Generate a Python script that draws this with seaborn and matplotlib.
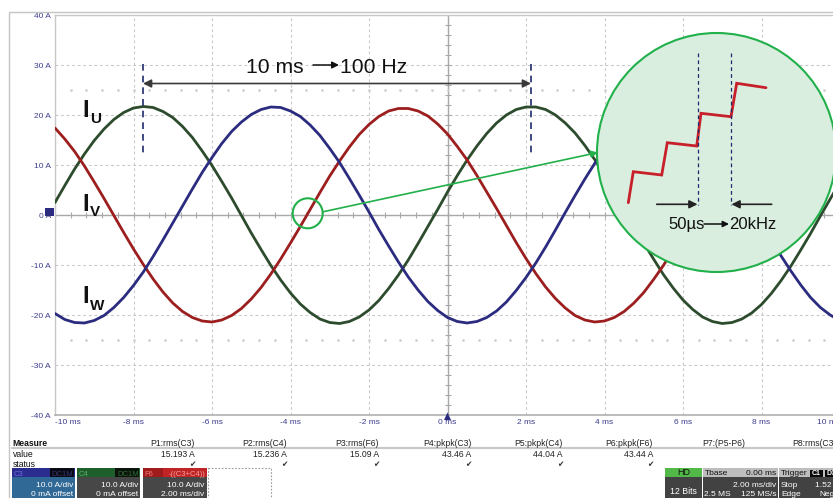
import numpy as np
import pandas as pd
import matplotlib
matplotlib.use("Agg")
import matplotlib.pyplot as plt
import seaborn as sns
from matplotlib.patches import Circle, Rectangle, Polygon

time_ms = [-10.0, -9.75, -9.5, -9.25, -9.0, -8.75, -8.5, -8.25, -8.0, -7.75,
           -7.5, -7.25, -7.0, -6.75, -6.5, -6.25, -6.0, -5.75, -5.5, -5.25,
           -5.0, -4.75, -4.5, -4.25, -4.0, -3.75, -3.5, -3.25, -3.0, -2.75,
           -2.5, -2.25, -2.0, -1.75, -1.5, -1.25, -1.0, -0.75, -0.5, -0.25,
           0.0, 0.25, 0.5, 0.75, 1.0, 1.25, 1.5, 1.75, 2.0, 2.25,
           2.5, 2.75, 3.0, 3.25, 3.5, 3.75, 4.0, 4.25, 4.5, 4.75,
           5.0, 5.25, 5.5, 5.75, 6.0, 6.25, 6.5, 6.75, 7.0, 7.25,
           7.5, 7.75, 8.0, 8.25, 8.5, 8.75, 9.0, 9.25, 9.5, 9.75, 10.0]
i_u = [2.5, 5.9, 9.2, 12.2, 14.9, 17.2, 19.1, 20.5, 21.4, 21.7,
       21.5, 20.7, 19.5, 17.7, 15.5, 12.8, 9.9, 6.7, 3.4, -0.1,
       -3.6, -6.9, -10.1, -13.0, -15.6, -17.8, -19.5, -20.8, -21.5, -21.7,
       -21.3, -20.4, -19.0, -17.1, -14.7, -12.0, -9.0, -5.7, -2.3, 1.1,
       4.6, 7.9, 11.0, 13.8, 16.3, 18.4, 20.0, 21.1, 21.6, 21.6,
       21.1, 20.0, 18.4, 16.4, 13.9, 11.1, 8.0, 4.7, 1.3, -2.2,
       -5.6, -8.8, -11.9, -14.6, -17.0, -18.9, -20.4, -21.3, -21.7, -21.5,
       -20.8, -19.6, -17.9, -15.7, -13.1, -10.2, -7.0, -3.7, -0.2, 3.2, 6.6]
i_v = [17.4, 15.2, 12.7, 9.8, 6.6, 3.3, -0.1, -3.5, -6.8, -9.9,
       -12.8, -15.4, -17.6, -19.3, -20.5, -21.2, -21.4, -21.0, -20.1, -18.7,
       -16.8, -14.5, -11.8, -8.8, -5.6, -2.3, 1.1, 4.5, 7.8, 10.8,
       13.6, 16.1, 18.1, 19.7, 20.8, 21.3, 21.3, 20.8, 19.8, 18.2,
       16.2, 13.7, 11.0, 7.9, 4.6, 1.3, -2.1, -5.5, -8.7, -11.7,
       -14.4, -16.7, -18.6, -20.1, -21.0, -21.4, -21.2, -20.5, -19.3, -17.6,
       -15.5, -12.9, -10.1, -6.9, -3.6, -0.2, 3.2, 6.5, 9.6, 12.6,
       15.1, 17.4, 19.1, 20.4, 21.2, 21.4, 21.1, 20.2, 18.9, 17.0, 14.8]
i_w = [-19.7, -20.9, -21.5, -21.6, -21.1, -20.1, -18.5, -16.5, -14.1, -11.4,
       -8.3, -5.0, -1.6, 1.8, 5.2, 8.5, 11.5, 14.3, 16.7, 18.6,
       20.1, 21.1, 21.6, 21.5, 20.8, 19.7, 18.0, 15.9, 13.3, 10.5,
       7.3, 4.0, 0.6, -2.9, -6.2, -9.4, -12.4, -15.0, -17.3, -19.1,
       -20.5, -21.3, -21.6, -21.3, -20.5, -19.2, -17.4, -15.1, -12.5, -9.6,
       -6.4, -3.0, 0.5, 3.9, 7.2, 10.3, 13.2, 15.8, 17.9, 19.6,
       20.8, 21.5, 21.6, 21.2, 20.2, 18.7, 16.8, 14.4, 11.6, 8.6,
       5.4, 2.0, -1.5, -4.9, -8.2, -11.2, -14.0, -16.5, -18.5, -20.0, -21.1]

x_ticks = [-10, -8, -6, -4, -2, 0, 2, 4, 6, 8, 10]
x_tick_labels = ["-10 ms", "-8 ms", "-6 ms", "-4 ms", "-2 ms", "0 ms",
                 "2 ms", "4 ms", "6 ms", "8 ms", "10 ms"]
y_ticks = [-40, -30, -20, -10, 0, 10, 20, 30, 40]
y_tick_labels = ["-40 A", "-30 A", "-20 A", "-10 A", "0 A", "10 A", "20 A", "30 A", "40 A"]

measure_headers = ["P1:rms(C3)", "P2:rms(C4)", "P3:rms(F6)", "P4:pkpk(C3)",
                   "P5:pkpk(C4)", "P6:pkpk(F6)", "P7:(P5-P6)", "P8:rms(C3)"]
measure_values = ["15.193 A", "15.236 A", "15.09 A", "43.46 A", "44.04 A", "43.44 A", "", ""]
measure_ok = [True, True, True, True, True, True, False, False]

# ---------------- style ----------------
sns.set_style("white")
plt.rcParams["font.family"] = ["Liberation Sans", "DejaVu Sans"]

W, H = 833, 498
fig = plt.figure(figsize=(W / 100, H / 100), dpi=100)
ax = fig.add_axes([55 / W, 1 - 415 / H, 785 / W, 400 / H])

df = pd.DataFrame({"t": time_ms, "I_U": i_u, "I_V": i_v, "I_W": i_w})
long = df.melt(id_vars="t", var_name="phase", value_name="i")
palette = {"I_U": "#2d4b2d", "I_V": "#9c1e1e", "I_W": "#2b2b80"}
sns.lineplot(data=long, x="t", y="i", hue="phase", palette=palette, lw=2.0,
             legend=False, ax=ax, sort=False, estimator=None, zorder=3)

ax.set_xlim(-10, 10)
ax.set_ylim(-40, 40)
ax.set_xticks(x_ticks)
ax.set_xticklabels(x_tick_labels)
ax.set_yticks(y_ticks)
ax.set_yticklabels(y_tick_labels)
ax.set_xlabel("")
ax.set_ylabel("")
lab_col = "#3d3d8f"
ax.tick_params(axis="both", length=0, labelsize=6, labelcolor=lab_col)
ax.tick_params(axis="x", pad=3)
ax.tick_params(axis="y", pad=3)
xl = ax.get_xticklabels()
xl[0].set_ha("left")
xl[-1].set_ha("right")
ax.set_axisbelow(True)
ax.grid(True, color="#c9c9c9", lw=0.8, ls=(0, (2.5, 2.5)))
for s in ["left", "top", "right"]:
    ax.spines[s].set_color("#c8c8c8")
    ax.spines[s].set_linewidth(1.0)
ax.spines["bottom"].set_color("#b0b0b0")
ax.spines["bottom"].set_linewidth(1.2)

# graticule centre lines with minor ticks, and dotted rows
ax.axhline(0, color="#a9a9a9", lw=1.0, zorder=1)
ax.axvline(0, color="#a9a9a9", lw=1.0, zorder=1)
mx = np.arange(-9.6, 9.7, 0.4)
ax.plot(mx, np.zeros_like(mx), ls="none", marker="|", ms=4, mew=0.8, color="#a9a9a9", zorder=1)
my = np.arange(-38, 39, 2)
ax.plot(np.zeros_like(my), my, ls="none", marker="_", ms=4, mew=0.8, color="#a9a9a9", zorder=1)
for yy in (25, -25):
    ax.plot(mx, np.full_like(mx, yy), ls="none", marker="o", ms=0.9, color="#cdcdcd", zorder=1)

# ---------------- overlay in pixel coordinates ----------------
ov = fig.add_axes([0, 0, 1, 1], zorder=10)
ov.set_xlim(0, W)
ov.set_ylim(H, 0)
ov.axis("off")

ov.add_patch(Rectangle((9, 12), 840, 500, fill=False, ec="#c4c4c4", lw=1.0))

# ground marker and trigger marker
ov.add_patch(Rectangle((45, 207.5), 9, 8.5, fc="#2b2b80", ec="none"))
ov.add_patch(Polygon([(444, 420), (451, 420), (447.5, 412.5)], closed=True, fc="#2b2b80", ec="none"))

# period annotation
navy = "#1f2a6e"
for xv in (142.7, 530.7):
    ov.plot([xv, xv], [63.5, 153], color=navy, lw=1.2, ls=(0, (4, 3)))
ov.annotate("", xy=(531, 83.5), xytext=(143, 83.5),
            arrowprops=dict(arrowstyle="<|-|>", color="#3a3a3a", lw=1.2,
                            mutation_scale=12, shrinkA=0, shrinkB=0))
ov.text(246, 72.5, "10 ms", fontsize=15.2, color="#111111", ha="left", va="baseline")
ov.annotate("", xy=(339, 65), xytext=(313, 65),
            arrowprops=dict(arrowstyle="-|>", color="#111111", lw=1.1,
                            mutation_scale=10, shrinkA=0, shrinkB=0))
ov.text(340, 72.5, "100 Hz", fontsize=15.2, color="#111111", ha="left", va="baseline")

# phase labels
for (yb, ys, sub) in [(117, 123, "U"), (211, 216, "V"), (303, 310, "W")]:
    ov.text(82.5, yb, "I", fontsize=17, fontweight="bold", color="#111111", ha="left", va="baseline")
    ov.text(90, ys, sub, fontsize=11, fontweight="bold", color="#111111", ha="left", va="baseline")

# zoom circles
green = "#22b04b"
ov.add_patch(Circle((307.7, 213.3), 15, fill=False, ec=green, lw=1.5))
ov.annotate("", xy=(598, 152.5), xytext=(323, 211.8),
            arrowprops=dict(arrowstyle="-|>", color=green, lw=1.2,
                            mutation_scale=10, shrinkA=0, shrinkB=0))
ov.add_patch(Circle((716.5, 152.5), 119.5, fc="#d9eedf", ec=green, lw=1.5))

stair_x = [628.3, 633.3, 661.7, 667.3, 696.7, 701.0, 731.0, 736.7, 766.0]
stair_y = [202.7, 171.7, 175.0, 142.7, 146.0, 113.3, 116.7, 83.3, 87.7]
ov.plot(stair_x, stair_y, color="#c8202a", lw=2.0, solid_joinstyle="miter")
for xv in (698.3, 730.7):
    ov.plot([xv, xv], [53, 205], color=navy, lw=0.9, ls=(0, (3, 2.5)))
ov.annotate("", xy=(697.5, 204.3), xytext=(656.7, 204.3),
            arrowprops=dict(arrowstyle="-|>", color="#222222", lw=1.2,
                            mutation_scale=12, shrinkA=0, shrinkB=0))
ov.annotate("", xy=(731.5, 204.3), xytext=(771.7, 204.3),
            arrowprops=dict(arrowstyle="-|>", color="#222222", lw=1.2,
                            mutation_scale=12, shrinkA=0, shrinkB=0))
ov.text(668, 229.3, "50µs", fontsize=12, color="#111111", ha="left", va="baseline")
ov.annotate("", xy=(729, 224), xytext=(704, 224),
            arrowprops=dict(arrowstyle="-|>", color="#111111", lw=1.1,
                            mutation_scale=9, shrinkA=0, shrinkB=0))
ov.text(729.5, 229.3, "20kHz", fontsize=12, color="#111111", ha="left", va="baseline")

# ---------------- measurement table ----------------
tf = 6.2
ov.text(12.7, 446, "Measure", fontsize=tf, fontweight="bold", color="#111111", ha="left", va="baseline")
ov.text(12.7, 456.5, "value", fontsize=tf, color="#111111", ha="left", va="baseline")
ov.text(12.7, 466.5, "status", fontsize=tf, color="#111111", ha="left", va="baseline")
ov.plot([12, 840], [448, 448], color="#c8c8c8", lw=1.6)
col_right = [195, 287, 379, 471.5, 563, 653, 745, 837]
for xr, hd, val, ok in zip(col_right, measure_headers, measure_values, measure_ok):
    ov.text(xr, 446, hd, fontsize=tf, color="#222222", ha="right", va="baseline")
    if val:
        ov.text(xr, 456.5, val, fontsize=tf, color="#222222", ha="right", va="baseline")
    if ok:
        ov.text(xr, 467, "\u2714", fontsize=5.5, color="#333333", ha="right", va="baseline",
                family=["DejaVu Sans"])

# ---------------- channel / status boxes ----------------
def box(x0, x1, head_col, body_col, y0=468.3, y1=476.7, y2=505):
    ov.add_patch(Rectangle((x0, y1), x1 - x0, y2 - y1, fc=body_col, ec="none"))
    ov.add_patch(Rectangle((x0, y0), x1 - x0, y1 - y0, fc=head_col, ec="none"))

bf = 6.0
# C3
box(11.7, 75, "#2a2d8e", "#306896")
ov.text(13.5, 475.5, "C3", fontsize=5.5, color="#6f6fe0", ha="left", va="baseline")
ov.add_patch(Rectangle((50, 468.3), 24, 8.4, fc="#0a0a14", ec="none"))
ov.text(73.5, 475.5, "DC1M", fontsize=5.5, color="#34346e", ha="right", va="baseline")
ov.text(73.3, 486.7, "10.0 A/div", fontsize=bf, color="white", ha="right", va="baseline")
ov.text(73.3, 496, "0 mA offset", fontsize=bf, color="white", ha="right", va="baseline")
# C4
box(76.7, 140, "#1f5f2c", "#474747")
ov.text(78.5, 475.5, "C4", fontsize=5.5, color="#5fa86f", ha="left", va="baseline")
ov.add_patch(Rectangle((115, 468.3), 24.3, 8.4, fc="#0a140a", ec="none"))
ov.text(138.8, 475.5, "DC1M", fontsize=5.5, color="#2f6a35", ha="right", va="baseline")
ov.text(138.3, 486.7, "10.0 A/div", fontsize=bf, color="white", ha="right", va="baseline")
ov.text(138.3, 496, "0 mA offset", fontsize=bf, color="white", ha="right", va="baseline")
# F6
box(142.7, 206.7, "#a01c1c", "#474747")
ov.text(144.5, 475.5, "F6", fontsize=5.5, color="#ef7a7a", ha="left", va="baseline")
ov.add_patch(Rectangle((163, 468.3), 43.7, 8.4, fc="#c02424", ec="none"))
ov.text(205.5, 475.5, "-((C3+C4))", fontsize=5.5, color="#f3a0a0", ha="right", va="baseline")
ov.text(204.5, 486.7, "10.0 A/div", fontsize=bf, color="white", ha="right", va="baseline")
ov.text(204.5, 496, "2.00 ms/div", fontsize=bf, color="white", ha="right", va="baseline")
# dotted empty box
ov.add_patch(Rectangle((208, 468.3), 62.7, 40, fill=False, ec="#9a9a9a", lw=0.8, ls=(0, (1.5, 1.5))))

# HD
box(665, 701.7, "#52b847", "#424242")
ov.text(683.3, 475.3, "HD", fontsize=6.5, color="#111111", ha="center", va="baseline")
ov.text(683.3, 491.5, "12 Bits", fontsize=6.3, color="white", ha="center", va="center")
# Tbase
box(703, 777.7, "#bdbdbd", "#424242")
ov.text(705, 475.3, "Tbase", fontsize=bf, color="#111111", ha="left", va="baseline")
ov.text(776.5, 475.3, "0.00 ms", fontsize=bf, color="#111111", ha="right", va="baseline")
ov.text(776.5, 486.5, "2.00 ms/div", fontsize=bf, color="white", ha="right", va="baseline")
ov.text(704.5, 496, "2.5 MS", fontsize=bf, color="white", ha="left", va="baseline")
ov.text(776.5, 496, "125 MS/s", fontsize=bf, color="white", ha="right", va="baseline")
# Trigger
box(779, 845, "#bdbdbd", "#424242")
ov.text(781, 475.3, "Trigger", fontsize=bf, color="#111111", ha="left", va="baseline")
ov.add_patch(Rectangle((810, 469.5), 13, 7, fc="#0a0a0a", ec="none"))
ov.text(816.5, 475, "C1", fontsize=5, color="white", ha="center", va="baseline", fontweight="bold")
ov.add_patch(Rectangle((825, 469.5), 13, 7, fc="#0a0a0a", ec="none"))
ov.text(827, 475, "DC", fontsize=5, color="white", ha="left", va="baseline", fontweight="bold")
ov.text(781, 486.5, "Stop", fontsize=bf, color="white", ha="left", va="baseline")
ov.text(815.5, 486.5, "1.52 A", fontsize=bf, color="white", ha="left", va="baseline")
ov.text(781, 496, "Edge", fontsize=bf, color="white", ha="left", va="baseline")
ov.text(819.5, 496, "Negative", fontsize=bf, color="white", ha="left", va="baseline")

fig.savefig("out.png", dpi=100, facecolor="white")
